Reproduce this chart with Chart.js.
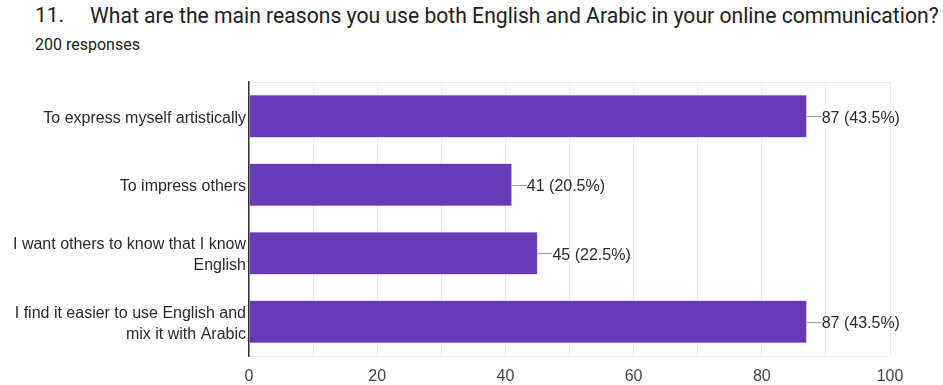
<!DOCTYPE html>
<html>
<head>
<meta charset="utf-8">
<script src="https://cdn.jsdelivr.net/npm/chart.js@4.4.1/dist/chart.umd.min.js"></script>
<style>
	html, body { margin: 0; padding: 0; background: #fff; }
	#wrap { position: relative; width: 943px; height: 385px; }
	#qnum, #qtext, #count {
		position: absolute;
		font-family: Roboto, sans-serif;
		color: #202124;
		white-space: nowrap;
	}
	#qnum { left: 35px; top: 3px; font-size: 21px; }
	#qtext { left: 90px; top: 3px; font-size: 21.15px; }
	#count { left: 35px; top: 35px; font-size: 16px; }
	canvas { position: absolute; left: 0; top: 0; }
</style>
</head>
<body>
<div id="wrap">
	<div id="qnum">11.</div>
	<div id="qtext">What are the main reasons you use both English and Arabic in your online communication?</div>
	<div id="count">200 responses</div>
	<canvas id="chart" width="943" height="385"></canvas>
</div>
<script>
const totalResponses = 200;
const categories = [
	'To express myself artistically',
	'To impress others',
	['I want others to know that I know', 'English'],
	['I find it easier to use English and', 'mix it with Arabic']
];
const counts = [87, 41, 45, 87];
const xTicks = [0, 20, 40, 60, 80, 100];

const labelFont = '"Liberation Sans", Arial, sans-serif';

// leader line + "n (p%)" after each bar
const valueLabels = {
	id: 'valueLabels',
	afterDatasetsDraw(chart) {
		const ctx = chart.ctx;
		const meta = chart.getDatasetMeta(0);
		ctx.save();
		ctx.font = '16px ' + labelFont;
		ctx.textBaseline = 'middle';
		meta.data.forEach((bar, i) => {
			const v = counts[i];
			ctx.strokeStyle = '#9e9e9e';
			ctx.lineWidth = 1;
			ctx.beginPath();
			ctx.moveTo(bar.x, Math.round(bar.y) + 0.5);
			ctx.lineTo(bar.x + 15, Math.round(bar.y) + 0.5);
			ctx.stroke();
			ctx.fillStyle = '#2a2a2a';
			ctx.fillText(v + ' (' + (v / totalResponses * 100).toFixed(1) + '%)', bar.x + 15, bar.y + 2);
		});
		ctx.restore();
	}
};

const config = {
	type: 'bar',
	data: {
		labels: categories,
		datasets: [{
			data: counts,
			backgroundColor: '#673ab7',
			borderColor: '#9575cd',
			borderWidth: 0.5,
			barPercentage: 0.62,
			categoryPercentage: 1
		}]
	},
	options: {
		indexAxis: 'y',
		responsive: false,
		animation: false,
		layout: { padding: { top: 82, right: 53, left: 0, bottom: 0 } },
		plugins: {
			legend: { display: false },
			tooltip: { enabled: false }
		},
		scales: {
			x: {
				min: 0,
				max: 100,
				afterFit(scale) { scale.height = 29; },
				afterBuildTicks(scale) {
					scale.ticks = [];
					for (let v = 0; v <= 100; v += 10) scale.ticks.push({ value: v });
				},
				ticks: {
					padding: 11,
					color: '#444',
					font: { family: labelFont, size: 16 },
					autoSkip: false,
					maxRotation: 0,
					callback: (v) => xTicks.includes(v) ? String(v) : ''
				},
				grid: {
					color: '#ececec',
					drawTicks: false
				},
				border: { display: false }
			},
			y: {
				afterFit(scale) { scale.width = 249; },
				ticks: {
					padding: 3,
					labelOffset: 2,
					color: '#2a2a2a',
					font: { family: labelFont, size: 16, lineHeight: 1.3 }
				},
				grid: {
					drawTicks: false,
					color: (c) => (c.type === 'scale' || c.index === 0) ? '#ececec' : 'rgba(0,0,0,0)'
				},
				border: { color: '#333', width: 1.5 }
			}
		}
	},
	plugins: [valueLabels]
};

const chart = new Chart(document.getElementById('chart').getContext('2d'), config);
</script>
</body>
</html>
